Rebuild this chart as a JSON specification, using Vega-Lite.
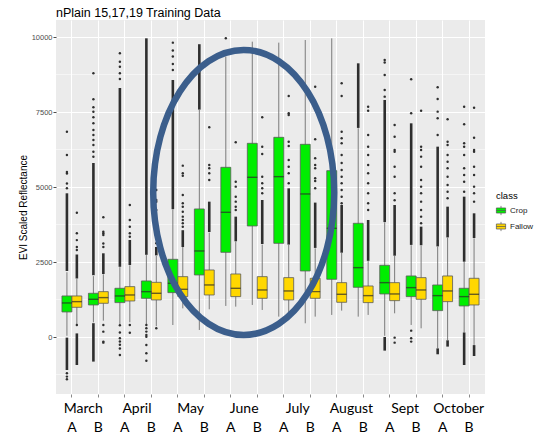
{
  "$schema": "https://vega.github.io/schema/vega-lite/v6.json",
  "width": 429,
  "height": 374,
  "autosize": {"type": "none"},
  "padding": {"left": 56, "top": 20, "right": 50, "bottom": 42},
  "background": "#FFFFFF",
  "config": {
    "view": {"fill": "#EBEBEB", "stroke": null},
    "font": "Liberation Sans"
  },
  "title": {
    "text": "nPlain 15,17,19 Training Data",
    "anchor": "start",
    "frame": "group",
    "fontSize": 12.5,
    "fontWeight": "normal",
    "font": "Liberation Sans",
    "color": "#000000",
    "baseline": "bottom",
    "offset": 1,
    "dy": 13
  },
  "datasets": {
    "boxes": [
      {"p": "Mar A", "c": "Crop", "lo": 40, "q1": 835, "med": 1135, "q3": 1368, "hi": 2160},
      {"p": "Mar A", "c": "Fallow", "lo": 430, "q1": 990, "med": 1179, "q3": 1368, "hi": 1930},
      {"p": "Mar B", "c": "Crop", "lo": 490, "q1": 1068, "med": 1257, "q3": 1457, "hi": 2030},
      {"p": "Mar B", "c": "Fallow", "lo": 545, "q1": 1124, "med": 1313, "q3": 1512, "hi": 2090},
      {"p": "Apr A", "c": "Crop", "lo": 430, "q1": 1146, "med": 1368, "q3": 1624, "hi": 2330},
      {"p": "Apr A", "c": "Fallow", "lo": 490, "q1": 1201, "med": 1401, "q3": 1679, "hi": 2390},
      {"p": "Apr B", "c": "Crop", "lo": 430, "q1": 1290, "med": 1512, "q3": 1868, "hi": 2730},
      {"p": "Apr B", "c": "Fallow", "lo": 360, "q1": 1235, "med": 1457, "q3": 1823, "hi": 2700},
      {"p": "May A", "c": "Crop", "lo": 400, "q1": 1479, "med": 1790, "q3": 2590, "hi": 4250},
      {"p": "May A", "c": "Fallow", "lo": 955, "q1": 1346, "med": 1590, "q3": 2012, "hi": 3000},
      {"p": "May B", "c": "Crop", "lo": 235, "q1": 2068, "med": 2868, "q3": 4268, "hi": 7570},
      {"p": "May B", "c": "Fallow", "lo": 923, "q1": 1401, "med": 1735, "q3": 2234, "hi": 3480},
      {"p": "Jun A", "c": "Crop", "lo": 1035, "q1": 2823, "med": 4157, "q3": 5656, "hi": 9350},
      {"p": "Jun A", "c": "Fallow", "lo": 1012, "q1": 1346, "med": 1623, "q3": 2101, "hi": 3180},
      {"p": "Jun B", "c": "Crop", "lo": 1068, "q1": 3701, "med": 5323, "q3": 6456, "hi": 9845},
      {"p": "Jun B", "c": "Fallow", "lo": 901, "q1": 1290, "med": 1568, "q3": 2012, "hi": 3080},
      {"p": "Jul A", "c": "Crop", "lo": 679, "q1": 3123, "med": 5345, "q3": 6656, "hi": 9812},
      {"p": "Jul A", "c": "Fallow", "lo": 790, "q1": 1235, "med": 1535, "q3": 1979, "hi": 3068},
      {"p": "Jul B", "c": "Crop", "lo": 457, "q1": 2201, "med": 4768, "q3": 6423, "hi": 9900},
      {"p": "Jul B", "c": "Fallow", "lo": 679, "q1": 1290, "med": 1512, "q3": 1957, "hi": 2957},
      {"p": "Aug A", "c": "Crop", "lo": 735, "q1": 1923, "med": 3623, "q3": 5545, "hi": 9956},
      {"p": "Aug A", "c": "Fallow", "lo": 879, "q1": 1157, "med": 1424, "q3": 1812, "hi": 2800},
      {"p": "Aug B", "c": "Crop", "lo": 679, "q1": 1657, "med": 2312, "q3": 3790, "hi": 6960},
      {"p": "Aug B", "c": "Fallow", "lo": 735, "q1": 1146, "med": 1379, "q3": 1701, "hi": 2530},
      {"p": "Sep A", "c": "Crop", "lo": 40, "q1": 1435, "med": 1812, "q3": 2390, "hi": 3820},
      {"p": "Sep A", "c": "Fallow", "lo": 790, "q1": 1212, "med": 1435, "q3": 1812, "hi": 2700},
      {"p": "Sep B", "c": "Crop", "lo": 401, "q1": 1346, "med": 1646, "q3": 2035, "hi": 3060},
      {"p": "Sep B", "c": "Fallow", "lo": 290, "q1": 1257, "med": 1568, "q3": 1979, "hi": 3050},
      {"p": "Oct A", "c": "Crop", "lo": -376, "q1": 879, "med": 1379, "q3": 1734, "hi": 3010},
      {"p": "Oct A", "c": "Fallow", "lo": -100, "q1": 1179, "med": 1535, "q3": 2035, "hi": 3310},
      {"p": "Oct B", "c": "Crop", "lo": 150, "q1": 1035, "med": 1346, "q3": 1624, "hi": 2500},
      {"p": "Oct B", "c": "Fallow", "lo": -265, "q1": 1068, "med": 1424, "q3": 1957, "hi": 3290}
    ],
    "segs": [
      {"p": "Mar A", "c": "Crop", "lo": 2200, "hi": 4790},
      {"p": "Mar A", "c": "Crop", "lo": -1100, "hi": -20},
      {"p": "Mar A", "c": "Fallow", "lo": 1950, "hi": 2750},
      {"p": "Mar A", "c": "Fallow", "lo": -933, "hi": 120},
      {"p": "Mar B", "c": "Crop", "lo": 2060, "hi": 5800},
      {"p": "Mar B", "c": "Crop", "lo": -820, "hi": 460},
      {"p": "Mar B", "c": "Fallow", "lo": 2100, "hi": 2790},
      {"p": "Apr A", "c": "Crop", "lo": 2340, "hi": 8300},
      {"p": "Apr A", "c": "Fallow", "lo": 2400, "hi": 3234},
      {"p": "Apr B", "c": "Crop", "lo": 2740, "hi": 9956},
      {"p": "Apr B", "c": "Fallow", "lo": 2720, "hi": 3000},
      {"p": "May A", "c": "Crop", "lo": 4260, "hi": 8567},
      {"p": "May A", "c": "Fallow", "lo": 3000, "hi": 3560},
      {"p": "May B", "c": "Crop", "lo": 7580, "hi": 9760},
      {"p": "May B", "c": "Fallow", "lo": 3500, "hi": 4512},
      {"p": "Jun A", "c": "Fallow", "lo": 3190, "hi": 4012},
      {"p": "Jun B", "c": "Fallow", "lo": 3100, "hi": 4567},
      {"p": "Jul A", "c": "Fallow", "lo": 3080, "hi": 4956},
      {"p": "Jul B", "c": "Fallow", "lo": 2970, "hi": 4480},
      {"p": "Aug A", "c": "Fallow", "lo": 2810, "hi": 4400},
      {"p": "Aug B", "c": "Crop", "lo": 6970, "hi": 9123},
      {"p": "Aug B", "c": "Fallow", "lo": 2540, "hi": 3900},
      {"p": "Sep A", "c": "Crop", "lo": 3830, "hi": 7900},
      {"p": "Sep A", "c": "Crop", "lo": -454, "hi": 0},
      {"p": "Sep A", "c": "Fallow", "lo": 2710, "hi": 4400},
      {"p": "Sep B", "c": "Crop", "lo": 3070, "hi": 7123},
      {"p": "Sep B", "c": "Fallow", "lo": 3060, "hi": 3678},
      {"p": "Oct A", "c": "Crop", "lo": 3020, "hi": 6345},
      {"p": "Oct A", "c": "Crop", "lo": -576, "hi": -380},
      {"p": "Oct A", "c": "Fallow", "lo": 3320, "hi": 4345},
      {"p": "Oct A", "c": "Fallow", "lo": -320, "hi": -110},
      {"p": "Oct B", "c": "Crop", "lo": 2510, "hi": 4678},
      {"p": "Oct B", "c": "Crop", "lo": -933, "hi": 150},
      {"p": "Oct B", "c": "Fallow", "lo": 3300, "hi": 4123},
      {"p": "Oct B", "c": "Fallow", "lo": -633, "hi": -270}
    ],
    "pts": [
      {"p": "Mar A", "c": "Crop", "vs": [4960, 5120, 5450, 5500, 6070, 6845, -1210, -1320, -1410]},
      {"p": "Mar A", "c": "Fallow", "vs": [2900, 3000, 3230, 3460, 4145, 400]},
      {"p": "Mar B", "c": "Crop", "vs": [8789, 7923, 7656, 7511, 7323, 7123, 6900, 6734, 6567, 6400, 6178, 6011]},
      {"p": "Mar B", "c": "Fallow", "vs": [3000, 3120, 3400, 3456, 3510, 3990, 402, 179, -154, -188]},
      {"p": "Apr A", "c": "Crop", "vs": [8600, 8789, 9011, 9178, 9456, 390, 150, -40, -150, -260, -380, -600]},
      {"p": "Apr A", "c": "Fallow", "vs": [3345, 3456, 3678, 3900, 4400, 400, 145]},
      {"p": "Apr B", "c": "Crop", "vs": [400, 290, 180, 70, 10, -265, -540, -790]},
      {"p": "Apr B", "c": "Fallow", "vs": [5678, 4900, 4567, 4510, 4234, 3900, 3678, 3456, 3290, 3123, 290]},
      {"p": "May A", "c": "Crop", "vs": [8900, 9100, 9350, 9550, 9812]},
      {"p": "May A", "c": "Fallow", "vs": [5712, 5456, 5378, 4734, 4456, 4345, 4178, 4012, 3900, 3790, 3678]},
      {"p": "May B", "c": "Fallow", "vs": [6990, 5734, 5623, 5456, 5234]},
      {"p": "Jun A", "c": "Crop", "vs": [9956]},
      {"p": "Jun A", "c": "Fallow", "vs": [6490, 5178, 5012, 4678, 4512, 4345, 4234]},
      {"p": "Jun B", "c": "Fallow", "vs": [7323, 6345, 6100, 5345, 5123, 4956, 4790]},
      {"p": "Jul A", "c": "Fallow", "vs": [8034, 7456, 7400, 6511, 6367, 5900, 5678, 5456, 5123]},
      {"p": "Jul B", "c": "Fallow", "vs": [8345, 6590, 5956, 5734, 5623, 5290, 5200, 4956]},
      {"p": "Aug A", "c": "Fallow", "vs": [8456, 8034, 6845, 6623, 6456, 6067, 5800, 5567, 5345, 5123, 4900, 4678, 4456]},
      {"p": "Aug B", "c": "Fallow", "vs": [7678, 7545, 6734, 6345, 6067, 5734, 5456, 5123, 4790, 4456, 4234]},
      {"p": "Sep A", "c": "Crop", "vs": [9234, 9150, 8734, 8234, 8012]},
      {"p": "Sep A", "c": "Fallow", "vs": [7067, 6678, 6234, 6178, 5678, 5345, 4790, 4560, -21, -188]},
      {"p": "Sep B", "c": "Crop", "vs": [8589, 7456, 212, -43, -154]},
      {"p": "Sep B", "c": "Fallow", "vs": [7545, 6345, 6234, 6012, 5678, 5234, 5012, 4790, 4512, 4234, 4012, 3790]},
      {"p": "Oct A", "c": "Crop", "vs": [8323, 7934, 7512, 7290, 6734]},
      {"p": "Oct A", "c": "Fallow", "vs": [7256, 6511, 6400, 6067, 5845, 5623, 5345, 5067, 4845, 4623]},
      {"p": "Oct B", "c": "Crop", "vs": [7678, 7090, 6456, 6345, 6067, 5623, 5400, 5178, 4845]},
      {"p": "Oct B", "c": "Fallow", "vs": [7645, 6645, 6234, 6178, 5678, 5400, 5012, 4790, 4512]}
    ],
    "minor": [{"v": -1250}, {"v": 1250}, {"v": 3750}, {"v": 6250}, {"v": 8750}],
    "ring": [{"m": "June", "v": 4817}]
  },
  "layer": [
    {
      "layer": [
        {
          "data": {"name": "minor"},
          "mark": {"type": "rule", "color": "#FFFFFF", "strokeWidth": 0.5},
          "encoding": {
            "y": {"field": "v", "type": "quantitative"}
          }
        },
        {
          "data": {"name": "boxes"},
          "mark": {"type": "rule", "color": "#6E6E6E", "strokeWidth": 0.9},
          "encoding": {
            "x": {
              "field": "p", "type": "nominal",
              "scale": {"domain": ["Mar A", "Mar B", "Apr A", "Apr B", "May A", "May B", "Jun A", "Jun B", "Jul A", "Jul B", "Aug A", "Aug B", "Sep A", "Sep B", "Oct A", "Oct B"], "paddingInner": 0, "paddingOuter": 0.1},
              "axis": {
                "title": null,
                "labelExpr": "substring(datum.label, 4, 5)",
                "labelAngle": 0,
                "labelFont": "Lato",
                "labelFontSize": 14,
                "labelColor": "#000000",
                "labelPadding": 23,
                "tickSize": 3,
                "tickColor": "#8A8A8A",
                "domain": false,
                "grid": true,
                "gridColor": "#FFFFFF",
                "gridWidth": 1,
                "bandPosition": 0.5
              }
            },
            "xOffset": {"field": "c", "type": "nominal", "scale": {"domain": ["Crop", "Fallow"], "paddingInner": 0, "paddingOuter": 0.333}},
            "y": {
              "field": "lo", "type": "quantitative",
              "scale": {"domain": [-1900, 10567], "nice": false, "zero": false},
              "axis": {
                "title": "EVI Scaled Reflectance",
                "titleFont": "Liberation Sans",
                "titleFontSize": 10,
                "titleFontWeight": "normal",
                "titleColor": "#000000",
                "titlePadding": 3,
                "values": [0, 2500, 5000, 7500, 10000],
                "format": "d",
                "labelFont": "Liberation Sans",
                "labelFontSize": 7.5,
                "labelColor": "#4D4D4D",
                "labelPadding": 1,
                "tickSize": 3,
                "tickColor": "#4D4D4D",
                "domain": false,
                "grid": true,
                "gridColor": "#FFFFFF",
                "gridWidth": 1
              }
            },
            "y2": {"field": "hi"}
          }
        },
        {
          "data": {"name": "segs"},
          "mark": {"type": "rule", "color": "#2E2E2E", "strokeWidth": 2.6},
          "encoding": {
            "x": {"field": "p", "type": "nominal"},
            "xOffset": {"field": "c", "type": "nominal"},
            "y": {"field": "lo", "type": "quantitative"},
            "y2": {"field": "hi"}
          }
        },
        {
          "data": {"name": "pts"},
          "transform": [{"flatten": ["vs"], "as": ["v"]}],
          "mark": {"type": "point", "filled": true, "color": "#2E2E2E", "size": 6, "opacity": 1},
          "encoding": {
            "x": {"field": "p", "type": "nominal"},
            "xOffset": {"field": "c", "type": "nominal"},
            "y": {"field": "v", "type": "quantitative"}
          }
        },
        {
          "data": {"name": "boxes"},
          "mark": {"type": "bar", "stroke": "#5A5A5A", "strokeWidth": 0.8},
          "encoding": {
            "x": {"field": "p", "type": "nominal"},
            "xOffset": {"field": "c", "type": "nominal"},
            "y": {"field": "q1", "type": "quantitative"},
            "y2": {"field": "q3"},
            "color": {
              "field": "c", "type": "nominal",
              "scale": {"domain": ["Crop", "Fallow"], "range": ["#00EE00", "#FFD700"]},
              "legend": {
                "title": "class",
                "orient": "none",
                "legendX": 440,
                "legendY": 171,
                "titleFont": "Liberation Sans",
                "titleFontSize": 9.5,
                "titleFontWeight": "normal",
                "titleColor": "#000000",
                "titlePadding": 5,
                "labelFont": "Liberation Sans",
                "labelFontSize": 8,
                "labelColor": "#1A1A1A",
                "symbolType": "M -1 -0.55 L 1 -0.55 L 1 0.55 L -1 0.55 Z M -1 0 L 1 0 M 0 -0.55 L 0 -1 M 0 0.55 L 0 1",
                "symbolSize": 85,
                "symbolStrokeColor": "#555555",
                "symbolStrokeWidth": 0.7,
                "rowPadding": 2
              }
            }
          }
        },
        {
          "data": {"name": "boxes"},
          "mark": {"type": "tick", "color": "#2A2A2A", "thickness": 1.4, "size": 10, "orient": "horizontal"},
          "encoding": {
            "x": {"field": "p", "type": "nominal"},
            "xOffset": {"field": "c", "type": "nominal"},
            "y": {"field": "med", "type": "quantitative"}
          }
        }
      ]
    },
    {
      "data": {"name": "ring"},
      "mark": {
        "type": "point",
        "shape": "M 0 -1 C 0.35 -1 0.635 -0.5523 0.635 0 C 0.635 0.5523 0.35 1 0 1 C -0.35 1 -0.635 0.5523 -0.635 0 C -0.635 -0.5523 -0.35 -1 0 -1 Z",
        "filled": false,
        "stroke": "#3B5E8C",
        "strokeWidth": 6.5,
        "size": 81225,
        "opacity": 1
      },
      "encoding": {
        "x": {
          "field": "m", "type": "nominal",
          "scale": {"domain": ["March", "April", "May", "June", "July", "August", "Sept", "October"], "paddingInner": 0, "paddingOuter": 0.05},
          "axis": {
            "orient": "bottom",
            "title": null,
            "labelAngle": 0,
            "labelFont": "Lato",
            "labelFontSize": 14,
            "labelColor": "#000000",
            "labelPadding": 7,
            "ticks": false,
            "tickSize": 0,
            "domain": false,
            "grid": false
          }
        },
        "y": {"field": "v", "type": "quantitative"}
      }
    }
  ],
  "resolve": {"scale": {"x": "independent"}, "axis": {"x": "independent"}}
}
